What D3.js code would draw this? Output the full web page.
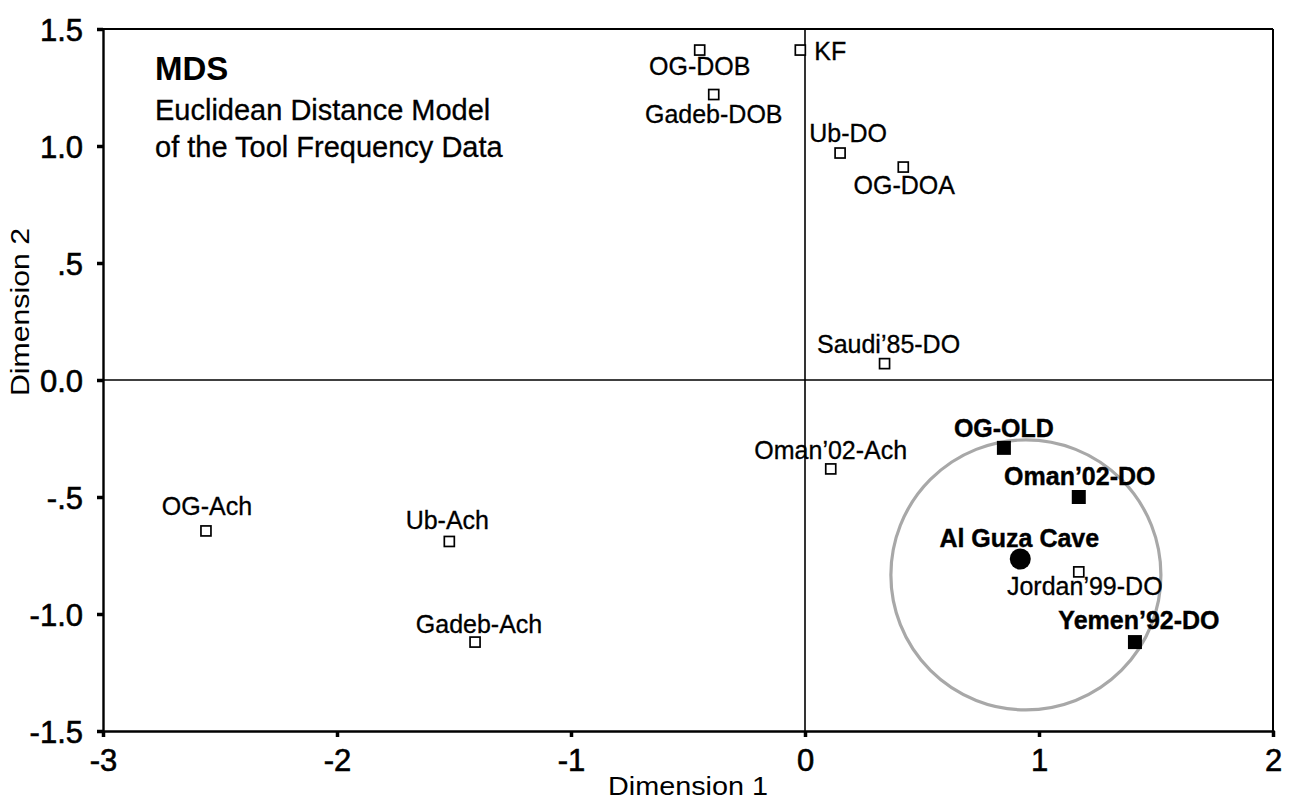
<!DOCTYPE html>
<html><head><meta charset="utf-8">
<script src="https://cdn.jsdelivr.net/npm/d3@7"></script>
<style>
html,body{margin:0;padding:0;background:#fff;}
svg{display:block;}
text{font-family:"Liberation Sans",Arial,Helvetica,sans-serif;fill:#000;}
</style></head>
<body>
<svg id="chart" width="1291" height="803"></svg>
<script>
// ---- data ----
const siteLabels = ["OG-DOB","KF","Gadeb-DOB","Ub-DO","OG-DOA","Saudi\u201985-DO","Oman\u201902-Ach","OG-OLD","Oman\u201902-DO","Al Guza Cave","Jordan\u201999-DO","Yemen\u201992-DO","OG-Ach","Ub-Ach","Gadeb-Ach"];
const dimension1 = [-0.45,-0.02,-0.39,0.15,0.42,0.34,0.11,0.85,1.17,0.92,1.17,1.41,-2.56,-1.52,-1.41];
const dimension2 = [1.41,1.41,1.22,0.97,0.91,0.07,-0.38,-0.29,-0.50,-0.765,-0.82,-1.12,-0.645,-0.69,-1.12];
const markerType = ["open","open","open","open","open","open","open","filled","filled","circle","open","filled","open","open","open"];
const xTickValues = [-3,-2,-1,0,1,2];
const xTickLabels = ["-3","-2","-1","0","1","2"];
const yTickValues = [-1.5,-1,-0.5,0,0.5,1,1.5];
const yTickLabels = ["-1.5","-1.0","-.5","0.0",".5","1.0","1.5"];
const groupCircle = {cx:0.944, cy:-0.833, r:0.577};
const titleLines = ["MDS","Euclidean Distance Model","of the Tool Frequency Data"];
const xAxisTitle = "Dimension 1";
const yAxisTitle = "Dimension 2";

// ---- layout (label placement relative to marker, px) ----
const labelPlace = {
  "OG-DOB":[0,25,"middle"], "KF":[14,10,"start"], "Gadeb-DOB":[0,28,"middle"],
  "Ub-DO":[8,-11,"middle"], "OG-DOA":[1,27,"middle"], "Saudi\u201985-DO":[4,-11,"middle"],
  "Oman\u201902-Ach":[0,-10,"middle"], "OG-OLD":[0,-11,"middle"], "Oman\u201902-DO":[1,-12,"middle"],
  "Al Guza Cave":[-1,-12,"middle"], "Jordan\u201999-DO":[6,23,"middle"], "Yemen\u201992-DO":[4,-13,"middle"],
  "OG-Ach":[1,-16,"middle"], "Ub-Ach":[-2,-12,"middle"], "Gadeb-Ach":[4,-9,"middle"]
};

(function(){
const svg = d3.select("#chart");
const pL=103, pR=1273, pT=29, pB=731;
const x = d3.scaleLinear().domain([-3,2]).range([pL,pR]);
const y = d3.scaleLinear().domain([-1.5,1.5]).range([pB,pT]);

// frame
const g = svg.append("g");
g.append("line").attr("x1",pL-6).attr("x2",pR).attr("y1",pT).attr("y2",pT).attr("stroke","#000").attr("stroke-width",2);
g.append("line").attr("x1",pR).attr("x2",pR).attr("y1",pT).attr("y2",pB).attr("stroke","#000").attr("stroke-width",2);
// zero lines
g.append("line").attr("x1",x(0)).attr("x2",x(0)).attr("y1",pT).attr("y2",pB).attr("stroke","#000").attr("stroke-width",1.6);
g.append("line").attr("x1",pL).attr("x2",pR).attr("y1",y(0)).attr("y2",y(0)).attr("stroke","#000").attr("stroke-width",1.6);

// axes
const xAxis = d3.axisBottom(x).tickValues(xTickValues).tickFormat((d,i)=>xTickLabels[i]).tickSize(6).tickPadding(11);
const gx = svg.append("g").attr("transform",`translate(0,${pB})`).call(xAxis);
gx.select(".domain").attr("stroke","#000").attr("stroke-width",2.4);
gx.selectAll(".tick line").attr("stroke","#000").attr("stroke-width",3.5);
gx.selectAll(".tick text").attr("font-size",31).attr("font-family","Liberation Sans, Arial, sans-serif")
  .attr("dy","0.75em").attr("stroke","#000").attr("stroke-width",0.6);

const yAxis = d3.axisLeft(y).tickValues(yTickValues).tickFormat((d,i)=>yTickLabels[i]).tickSize(6).tickPadding(14);
const gy = svg.append("g").attr("transform",`translate(${pL},0)`).call(yAxis);
gy.select(".domain").attr("stroke","#000").attr("stroke-width",2.4);
gy.selectAll(".tick line").attr("stroke","#000").attr("stroke-width",3.5);
gy.selectAll(".tick text").attr("font-size",31).attr("font-family","Liberation Sans, Arial, sans-serif")
  .attr("dy","0.36em").attr("stroke","#000").attr("stroke-width",0.6);

// axis titles
svg.append("text").attr("x",688).attr("y",795).attr("text-anchor","middle")
  .attr("font-size",25).attr("font-family","DejaVu Sans, sans-serif").attr("font-weight",300)
  .attr("textLength",160).attr("lengthAdjust","spacingAndGlyphs").text(xAxisTitle);
svg.append("text").attr("transform","translate(29,312) rotate(-90)").attr("text-anchor","middle")
  .attr("font-size",25).attr("font-family","DejaVu Sans, sans-serif").attr("font-weight",300)
  .attr("textLength",168).attr("lengthAdjust","spacingAndGlyphs").text(yAxisTitle);

// title
svg.append("text").attr("x",155).attr("y",80).attr("font-size",33).attr("font-weight","bold").text(titleLines[0]);
svg.append("text").attr("x",155).attr("y",120).attr("font-size",29).attr("stroke","#000").attr("stroke-width",0.3).text(titleLines[1]);
svg.append("text").attr("x",155).attr("y",157).attr("font-size",29).attr("stroke","#000").attr("stroke-width",0.3).text(titleLines[2]);

// group circle
svg.append("circle").attr("cx",x(groupCircle.cx)).attr("cy",y(groupCircle.cy))
  .attr("r",x(groupCircle.r)-x(0)).attr("fill","none").attr("stroke","#a8a8a8").attr("stroke-width",3.2);

// points
const pts = siteLabels.map((s,i)=>({name:s,d1:dimension1[i],d2:dimension2[i],type:markerType[i]}));
const pg = svg.append("g");
pts.forEach(p=>{
  const cx=x(p.d1), cy=y(p.d2);
  if(p.type==="open"){
    pg.append("rect").attr("x",cx-5).attr("y",cy-5).attr("width",10).attr("height",10)
      .attr("fill","#fff").attr("stroke","#000").attr("stroke-width",1.7);
  } else if(p.type==="filled"){
    pg.append("rect").attr("x",cx-7).attr("y",cy-7).attr("width",14).attr("height",14).attr("fill","#000");
  } else {
    pg.append("circle").attr("cx",cx).attr("cy",cy).attr("r",10.5).attr("fill","#000");
  }
  const lp = labelPlace[p.name];
  pg.append("text").attr("x",cx+lp[0]).attr("y",cy+lp[1]).attr("text-anchor",lp[2])
    .attr("font-size",25).attr("font-weight",p.type==="open"?"normal":"bold")
    .attr("stroke","#000").attr("stroke-width",p.type==="open"?0.3:0.4).text(p.name);
});
})();
</script>
</body></html>
